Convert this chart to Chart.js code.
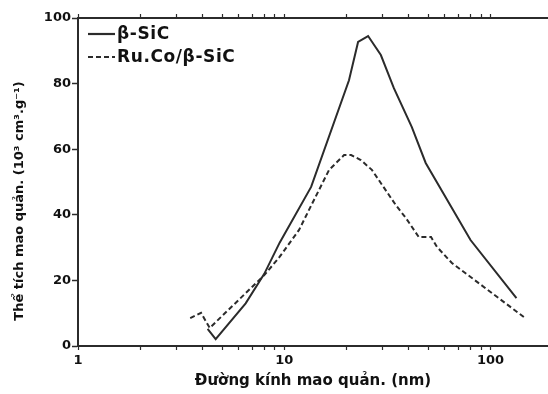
<!DOCTYPE html>
<html>
<head>
<meta charset="utf-8">
<script src="https://cdn.jsdelivr.net/npm/chart.js@4.4.0/dist/chart.umd.min.js"></script>
<style>
  html, body { margin: 0; padding: 0; background: #fff; overflow: hidden; }
  #wrap { width: 548px; height: 394px; }
</style>
</head>
<body>
<div id="wrap"><canvas id="poreChart" width="548" height="394"></canvas></div>
<script>
// pore diameter (nm) / pore volume
const sicDiam = [4.25, 4.65, 6.5, 8.0, 9.5, 13.5, 20.6, 22.8, 25.5, 29.4, 34, 41.5, 48.5, 80, 133.6];
const sicVol  = [5.2, 2.1, 13, 22, 31.5, 48.5, 81, 92.7, 94.5, 88.7, 78.6, 66.8, 55.8, 32.3, 14.6];
const rucoDiam = [3.5, 3.95, 4.35, 8.0, 9.45, 11.8, 13.7, 16.5, 19.5, 21.1, 23.5, 26.6, 30.5, 34.7, 38.9, 44.9, 51.5, 55, 65, 147.5];
const rucoVol  = [8.5, 10.1, 5.5, 21.6, 27, 35.4, 43.6, 53.7, 58.2, 58.2, 56.7, 53.7, 48.2, 43, 39, 33.2, 33.2, 30.2, 25.3, 8.5];
const xLabels = [1, 10, 100];
const yLabels = [0, 20, 40, 60, 80, 100];
const xMax = 190;

const FONT = '"DejaVu Sans", sans-serif';
const INK = '#2b2b2b';

// minor + major tick positions for the log axis
const logTicks = [];
[1, 10, 100].forEach(d => {
  for (let m = 1; m <= 9; m++) if (m * d <= xMax) logTicks.push(m * d);
});

const toPoints = (xs, ys) => xs.map((x, i) => ({ x: x, y: ys[i] }));

// legend drawn inside the plot + rotated y title
const extras = {
  id: 'extras',
  afterDraw(chart) {
    const { ctx, chartArea } = chart;
    ctx.save();
    ctx.font = 'bold 17px ' + FONT;
    ctx.letterSpacing = '0.6px';
    ctx.textBaseline = 'middle';
    chart.data.datasets.forEach((ds, i) => {
      const y = chartArea.top + 16 + i * 23;
      const x = chartArea.left + 10;
      ctx.strokeStyle = ds.borderColor;
      ctx.lineWidth = 2.2;
      ctx.setLineDash(ds.borderDash || []);
      ctx.beginPath();
      ctx.moveTo(x, y);
      ctx.lineTo(x + 27, y);
      ctx.stroke();
      ctx.setLineDash([]);
      ctx.fillStyle = '#111';
      ctx.textAlign = 'left';
      ctx.fillText(ds.label, x + 29, y + 1);
    });

    ctx.letterSpacing = '0px';
    ctx.translate(20, 201);
    ctx.rotate(-Math.PI / 2);
    ctx.font = 'bold 13px ' + FONT;
    ctx.textAlign = 'center';
    ctx.fillText('Thể tích mao quản. (10³ cm³.g⁻¹)', 0, 0);
    ctx.restore();
  }
};

const axisBase = {
  type: 'logarithmic',
  min: 1,
  max: xMax,
  afterBuildTicks: s => { s.ticks = logTicks.map(v => ({ value: v })); },
  border: { color: INK, width: 2 },
  grid: { drawOnChartArea: false, tickLength: 4, tickColor: INK, tickWidth: 1.2 }
};

new Chart(document.getElementById('poreChart'), {
  type: 'line',
  data: {
    datasets: [{
      label: 'β-SiC',
      data: toPoints(sicDiam, sicVol),
      borderColor: INK,
      borderWidth: 2,
      pointRadius: 0,
      tension: 0
    }, {
      label: 'Ru.Co/β-SiC',
      data: toPoints(rucoDiam, rucoVol),
      borderColor: INK,
      borderWidth: 2,
      borderDash: [5, 3],
      pointRadius: 0,
      tension: 0
    }]
  },
  options: {
    responsive: false,
    animation: false,
    layout: { padding: { left: 0, top: 0, bottom: 0, right: -4 } },
    plugins: {
      legend: { display: false },
      tooltip: { enabled: false }
    },
    scales: {
      x: Object.assign({}, axisBase, {
        position: 'bottom',
        afterFit: s => { s.height = 48; },
        ticks: {
          autoSkip: false,
          maxRotation: 0,
          padding: 3,
          color: '#111',
          font: { family: FONT, size: 13, weight: 'bold' },
          callback: v => xLabels.includes(v) ? String(v) : ''
        },
        title: {
          display: true,
          text: 'Đường kính mao quản. (nm)',
          color: '#111',
          font: { family: FONT, size: 15, weight: 'bold' },
          padding: { top: 0, bottom: 4 }
        }
      }),
      x2: Object.assign({}, axisBase, {
        position: 'top',
        afterFit: s => { s.height = 18; },
        ticks: { display: false }
      }),
      y: {
        min: 0,
        max: 100,
        afterBuildTicks: s => { s.ticks = yLabels.map(v => ({ value: v })); },
        afterFit: s => { s.width = 78; },
        border: { color: INK, width: 2 },
        grid: { drawOnChartArea: false, tickLength: 6, tickColor: INK, tickWidth: 1.5 },
        ticks: {
          padding: 1,
          color: '#111',
          font: { family: FONT, size: 13, weight: 'bold' }
        }
      }
    }
  },
  plugins: [extras]
});
</script>
</body>
</html>
